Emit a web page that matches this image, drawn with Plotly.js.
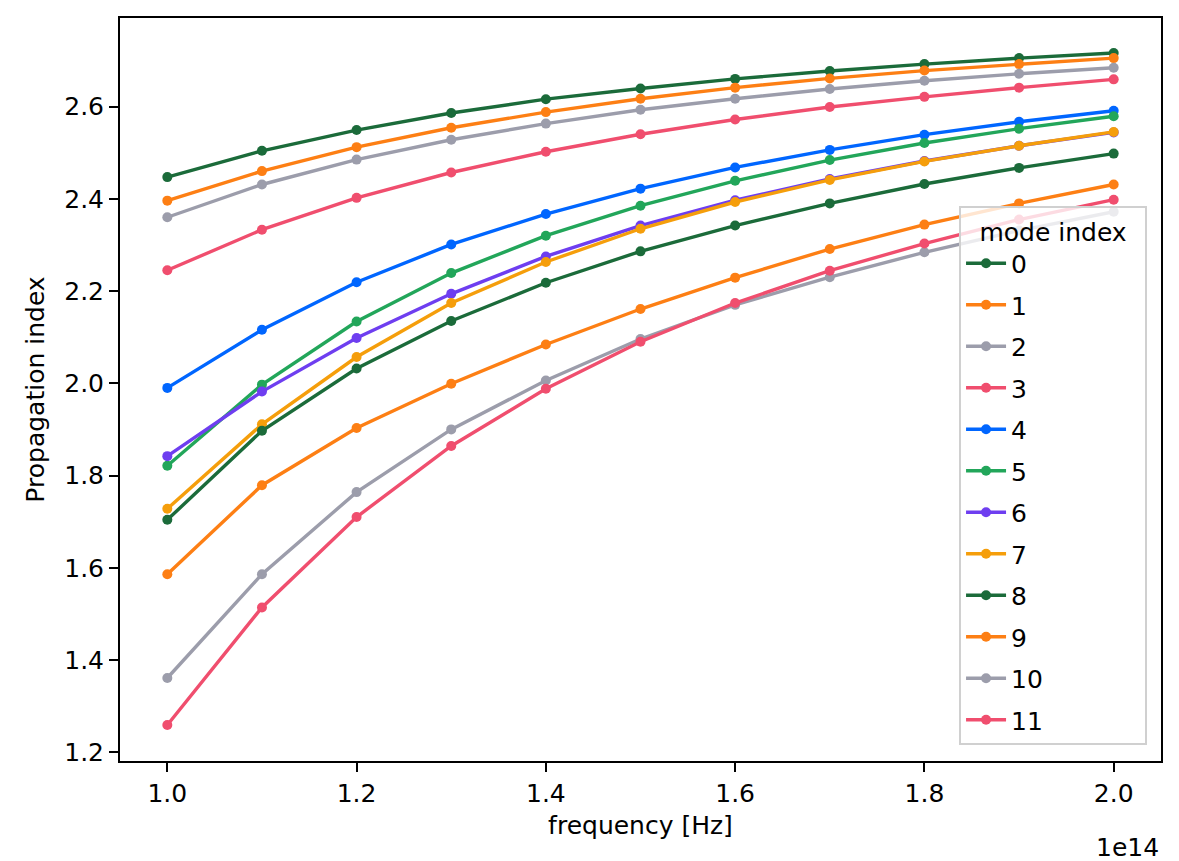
<!DOCTYPE html>
<html>
<head>
<meta charset="utf-8">
<script src="https://cdn.plot.ly/plotly-3.0.1.min.js"></script>
<style>
    html, body { margin: 0; padding: 0; background: #fff; }
    #plot { width: 1179px; height: 861px; }
</style>
</head>
<body>
<div id="plot"></div>
<script>
// frequencies in Hz
const freq = [1.0e14, 1.1e14, 1.2e14, 1.3e14, 1.4e14, 1.5e14, 1.6e14, 1.7e14, 1.8e14, 1.9e14, 2.0e14];

// propagation index per mode
const mode0 = [2.447, 2.504, 2.549, 2.586, 2.616, 2.639, 2.660, 2.677, 2.692, 2.705, 2.716];
const mode1 = [2.396, 2.460, 2.512, 2.554, 2.588, 2.617, 2.641, 2.661, 2.678, 2.692, 2.705];
const mode2 = [2.360, 2.431, 2.485, 2.528, 2.563, 2.593, 2.617, 2.638, 2.656, 2.671, 2.684];
const mode3 = [2.245, 2.333, 2.402, 2.457, 2.502, 2.540, 2.572, 2.599, 2.621, 2.641, 2.659];
const mode4 = [1.990, 2.116, 2.219, 2.301, 2.367, 2.422, 2.468, 2.506, 2.539, 2.567, 2.591];
const mode5 = [1.821, 1.997, 2.134, 2.239, 2.320, 2.385, 2.439, 2.484, 2.521, 2.552, 2.579];
const mode6 = [1.842, 1.982, 2.098, 2.194, 2.275, 2.342, 2.397, 2.443, 2.482, 2.515, 2.544];
const mode7 = [1.728, 1.911, 2.057, 2.174, 2.263, 2.335, 2.393, 2.441, 2.481, 2.515, 2.545];
const mode8 = [1.704, 1.897, 2.032, 2.135, 2.218, 2.286, 2.342, 2.390, 2.432, 2.467, 2.498];
const mode9 = [1.586, 1.779, 1.903, 1.999, 2.084, 2.161, 2.229, 2.291, 2.344, 2.390, 2.431];
const mode10 = [1.361, 1.586, 1.764, 1.900, 2.006, 2.096, 2.170, 2.230, 2.284, 2.331, 2.372];
const mode11 = [1.259, 1.514, 1.710, 1.864, 1.988, 2.090, 2.174, 2.244, 2.303, 2.355, 2.398];

const modes = [mode0, mode1, mode2, mode3, mode4, mode5, mode6, mode7, mode8, mode9, mode10, mode11];
const modeNames = ['0', '1', '2', '3', '4', '5', '6', '7', '8', '9', '10', '11'];
const colors = ['#1b6b3a', '#fd7f14', '#9c9dab', '#f04e6e', '#0066ff', '#22a65a',
                '#6e3ef0', '#f59e0b', '#1b6b3a', '#fd7f14', '#9c9dab', '#f04e6e'];

const xTicks = [1.0e14, 1.2e14, 1.4e14, 1.6e14, 1.8e14, 2.0e14];
const xTickText = ['1.0', '1.2', '1.4', '1.6', '1.8', '2.0'];
const yTicks = [1.2, 1.4, 1.6, 1.8, 2.0, 2.2, 2.4, 2.6];
const yTickText = ['1.2', '1.4', '1.6', '1.8', '2.0', '2.2', '2.4', '2.6'];

let data = [];
for (let i = 0; i < modes.length; i++) {
    data.push({
        x: freq,
        y: modes[i],
        name: modeNames[i],
        legendgroup: 'g' + i,
        mode: 'lines+markers',
        line: {color: colors[i], width: 3.4},
        marker: {color: colors[i], size: 10}
    });
}

const font = {family: 'DejaVu Sans', size: 25, color: '#000'};

let layout = {
    width: 1179,
    height: 861,
    margin: {l: 120, r: 18, t: 18, b: 100},
    paper_bgcolor: '#fff',
    plot_bgcolor: '#fff',
    font: font,
    showlegend: true,
    xaxis: {
        range: [0.95e14, 2.05e14],
        tickvals: xTicks,
        ticktext: xTickText,
        ticks: 'outside',
        ticklen: 9,
        tickwidth: 2,
        tickcolor: '#000',
        showgrid: false,
        zeroline: false,
        showline: true,
        mirror: true,
        linecolor: '#000',
        linewidth: 2,
        tickfont: font,
        title: {text: 'frequency [Hz]', font: font, standoff: 9}
    },
    yaxis: {
        range: [1.181, 2.792],
        tickvals: yTicks,
        ticktext: yTickText,
        ticks: 'outside',
        ticklen: 9,
        tickwidth: 2,
        tickcolor: '#000',
        showgrid: false,
        zeroline: false,
        showline: true,
        mirror: true,
        linecolor: '#000',
        linewidth: 2,
        tickfont: font,
        title: {text: 'Propagation index', font: font, standoff: 12}
    },
    legend: {
        // padded title so the box is as wide as the reference one
        title: {text: '&nbsp;&nbsp;mode index&nbsp;&nbsp;', font: font, side: 'top center'},
        font: font,
        x: 0.9866,
        xanchor: 'right',
        y: 0.0215,
        yanchor: 'bottom',
        bgcolor: 'rgba(255,255,255,0.8)',
        bordercolor: '#d0d0d0',
        borderwidth: 2,
        tracegroupgap: 6,
        itemwidth: 40
    },
    annotations: [{
        text: '1e14',
        xref: 'paper', yref: 'paper',
        x: 1, y: -0.116,
        xanchor: 'right', yanchor: 'middle',
        showarrow: false,
        font: font
    }]
};

Plotly.newPlot('plot', data, layout, {displayModeBar: false, staticPlot: true});
</script>
</body>
</html>
